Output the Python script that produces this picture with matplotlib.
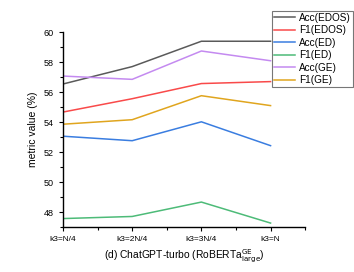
import matplotlib.pyplot as plt
import numpy as np

plt.rcParams['font.family'] = ['Liberation Sans', 'DejaVu Sans']

cats = ["k3=N/4", "k3=2N/4", "k3=3N/4", "k3=N"]
acc_edos = [56.54, 57.70, 59.39, 59.39]
f1_edos = [54.67, 55.56, 56.57, 56.70]
acc_ed = [53.06, 52.76, 54.02, 52.43]
f1_ed = [47.57, 47.71, 48.67, 47.27]
acc_ge = [57.07, 56.85, 58.74, 58.09]
f1_ge = [53.86, 54.16, 55.76, 55.10]

series = [
    ("Acc(EDOS)", acc_edos, "#5a5a5a"),
    ("F1(EDOS)", f1_edos, "#f94a4a"),
    ("Acc(ED)", acc_ed, "#3a7de0"),
    ("F1(ED)", f1_ed, "#4dbb78"),
    ("Acc(GE)", acc_ge, "#c48af0"),
    ("F1(GE)", f1_ge, "#e0a51e"),
]

fig = plt.figure(figsize=(3.54, 2.72), dpi=100)
ax = fig.add_axes([0.178, 0.165, 0.684, 0.717])
x = np.arange(len(cats))
for name, vals, c in series:
    ax.plot(x, vals, color=c, lw=1.1, label=name)

ax.set_xlim(0, 3.5)
ax.set_ylim(47, 60)
ax.set_xticks(x)
ax.set_xticklabels(cats, fontsize=6)
ax.set_xticks(x + 0.5, minor=True)
ax.set_yticks([48, 50, 52, 54, 56, 58, 60])
ax.set_yticks([47, 49, 51, 53, 55, 57, 59], minor=True)
ax.tick_params(axis='y', labelsize=6.5)
ax.tick_params(which='major', length=3, width=0.8, direction='out')
ax.tick_params(which='minor', length=2, width=0.8, direction='out')
for s in ['top', 'right']:
    ax.spines[s].set_visible(False)
for s in ['left', 'bottom']:
    ax.spines[s].set_linewidth(1.0)

ax.set_ylabel("metric value (%)", fontsize=7.5, labelpad=4)
ax.set_xlabel("(d) ChatGPT-turbo (RoBERTa$^{\\mathrm{GE}}_{\\mathrm{large}}$)", fontsize=7.4, labelpad=3)

leg = fig.legend(loc='upper right', bbox_to_anchor=(0.997, 0.96), fontsize=7.2,
                 frameon=True, fancybox=False, edgecolor='#555555',
                 borderpad=0.2, labelspacing=0.25, handlelength=2.1,
                 handletextpad=0.4, borderaxespad=0)
leg.get_frame().set_linewidth(0.8)

fig.savefig("out.png", dpi=100)
